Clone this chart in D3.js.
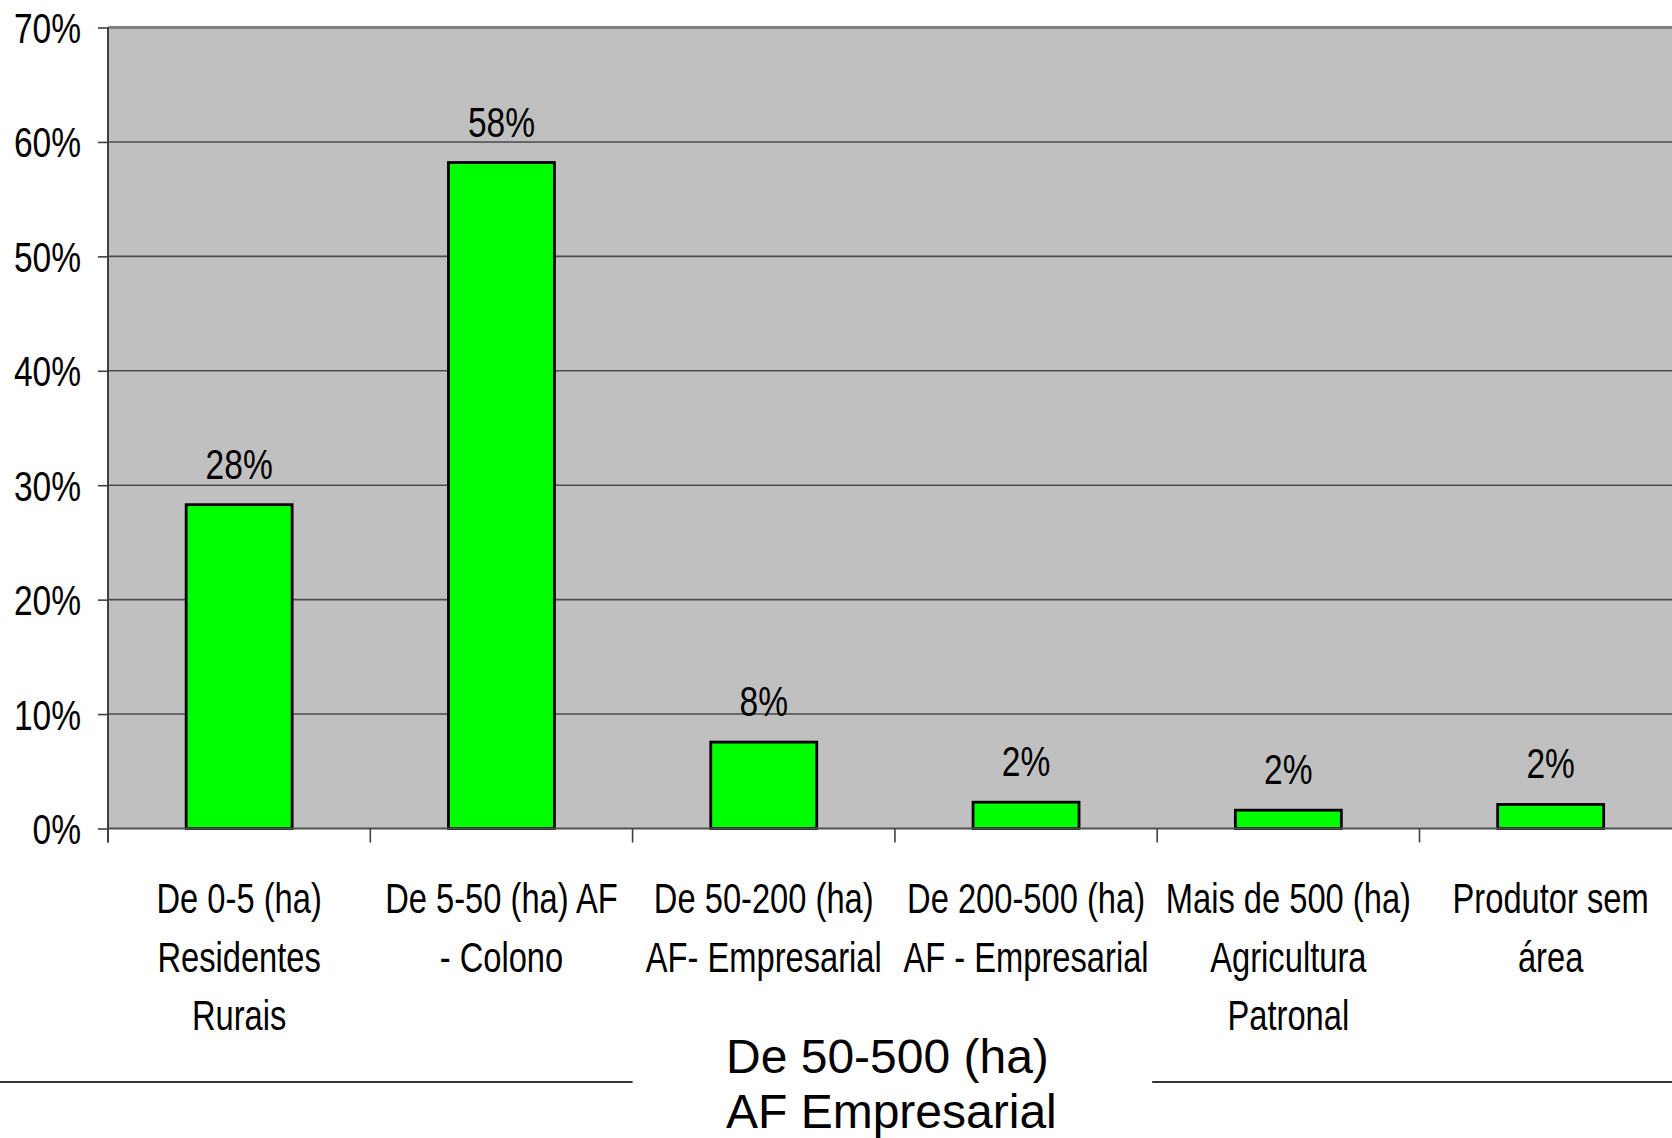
<!DOCTYPE html>
<html>
<head>
<meta charset="utf-8">
<script src="https://cdn.jsdelivr.net/npm/d3@7"></script>
<style>
  html, body { margin: 0; padding: 0; background: #ffffff; }
  svg { display: block; }
  text { font-family: "Liberation Sans", Arial, sans-serif; fill: #000; }
</style>
</head>
<body>
<svg id="chart" width="1672" height="1138"></svg>
<script>
// Share of producers by farm size group
const categories = [
  ["De 0-5 (ha)", "Residentes", "Rurais"],
  ["De 5-50 (ha) AF", "- Colono"],
  ["De 50-200 (ha)", "AF- Empresarial"],
  ["De 200-500 (ha)", "AF - Empresarial"],
  ["Mais de 500 (ha)", "Agricultura", "Patronal"],
  ["Produtor sem", "área"]
];
const shares = [0.283, 0.582, 0.0755, 0.023, 0.016, 0.021];
const yTicks = [0, 0.1, 0.2, 0.3, 0.4, 0.5, 0.6, 0.7];
const groupLabel = ["De 50-500 (ha)", "AF Empresarial"];

const svg = d3.select("#chart");
const plotLeft = 108, plotTop = 27.5, plotBottom = 828.5, bandStep = 262.3;
// condensed look of the chart lettering
const squeezeText = 0.76, squeezeNum = 0.78;

const keys = categories.map(c => c.join(" "));
const x = d3.scaleBand()
  .domain(keys)
  .range([plotLeft, plotLeft + bandStep * keys.length])
  .paddingInner(0.596)
  .paddingOuter(0.298);

const y = d3.scaleLinear().domain([0, 0.7]).range([plotBottom, plotTop]);
const pct = d3.format(".0%");

// plot background
svg.append("rect")
  .attr("x", plotLeft).attr("y", y(0.7))
  .attr("width", 1672 - plotLeft).attr("height", y(0) - y(0.7))
  .attr("fill", "#c0c0c0");

// horizontal gridlines
svg.append("g").selectAll("line")
  .data(yTicks.filter(t => t > 0 && t < 0.7))
  .join("line")
  .attr("x1", plotLeft).attr("x2", 1672)
  .attr("y1", d => y(d)).attr("y2", d => y(d))
  .attr("stroke", "#4a4a4a").attr("stroke-width", 1.6);

// top border of the plot
svg.append("line")
  .attr("x1", plotLeft).attr("x2", 1672)
  .attr("y1", y(0.7)).attr("y2", y(0.7))
  .attr("stroke", "#808080").attr("stroke-width", 3);

// y axis
const yAxis = svg.append("g")
  .attr("transform", `translate(${plotLeft},0)`)
  .call(d3.axisLeft(y).tickValues(yTicks).tickFormat(pct).tickSize(10));
yAxis.select(".domain").attr("stroke", "#404040").attr("stroke-width", 2)
  .attr("d", `M0,${y(0.7)}V${y(0) + 14}`);
yAxis.selectAll(".tick line").attr("stroke", "#404040").attr("stroke-width", 1.6);
yAxis.selectAll(".tick text")
  .attr("font-size", 43)
  .attr("font-family", "\"Liberation Sans\", Arial, sans-serif")
  .attr("fill", "#000")
  .attr("x", 0)
  .attr("dy", "0.35em")
  .attr("transform", `translate(-27,0) scale(${squeezeNum},1)`);

// bars
svg.append("g").selectAll("rect")
  .data(shares)
  .join("rect")
  .attr("x", (d, i) => x(keys[i]))
  .attr("y", d => y(d))
  .attr("width", x.bandwidth())
  .attr("height", d => y(0) - y(d))
  .attr("fill", "#00ff00")
  .attr("stroke", "#000")
  .attr("stroke-width", 2.8);

// zero line
svg.append("line")
  .attr("x1", plotLeft).attr("x2", 1672)
  .attr("y1", y(0)).attr("y2", y(0))
  .attr("stroke", "#505050").attr("stroke-width", 2);

// x tick marks at category boundaries
svg.append("g").selectAll("line")
  .data(d3.range(keys.length))
  .join("line")
  .attr("x1", i => x.range()[0] + i * x.step())
  .attr("x2", i => x.range()[0] + i * x.step())
  .attr("y1", y(0)).attr("y2", y(0) + 14)
  .attr("stroke", "#404040").attr("stroke-width", 1.6);

// value labels
svg.append("g").selectAll("text")
  .data(shares)
  .join("text")
  .attr("transform", (d, i) =>
    `translate(${x(keys[i]) + x.bandwidth() / 2},${y(d) - 26}) scale(${squeezeNum},1)`)
  .attr("text-anchor", "middle")
  .attr("font-size", 43)
  .text(d => pct(d));

// category labels
const catG = svg.append("g");
categories.forEach((lines, i) => {
  const t = catG.append("text")
    .attr("transform", `translate(${x(keys[i]) + x.bandwidth() / 2},0) scale(${squeezeText},1)`)
    .attr("text-anchor", "middle")
    .attr("font-size", 43);
  lines.forEach((ln, j) => {
    t.append("tspan")
      .attr("x", 0)
      .attr("y", 913 + j * 58.7)
      .text(ln);
  });
});

// group bracket for the 50-500 ha classes
const groupStart = x.range()[0] + 2 * x.step();
const groupEnd = x.range()[0] + 4 * x.step();
svg.append("line")
  .attr("x1", 0).attr("x2", groupStart)
  .attr("y1", 1082).attr("y2", 1082)
  .attr("stroke", "#333").attr("stroke-width", 2);
svg.append("line")
  .attr("x1", groupEnd - 5).attr("x2", 1672)
  .attr("y1", 1082).attr("y2", 1082)
  .attr("stroke", "#333").attr("stroke-width", 2);
const gl = svg.append("text")
  .attr("font-size", 48);
groupLabel.forEach((ln, j) => {
  gl.append("tspan").attr("x", 726).attr("y", 1073 + j * 55).text(ln);
});
</script>
</body>
</html>
